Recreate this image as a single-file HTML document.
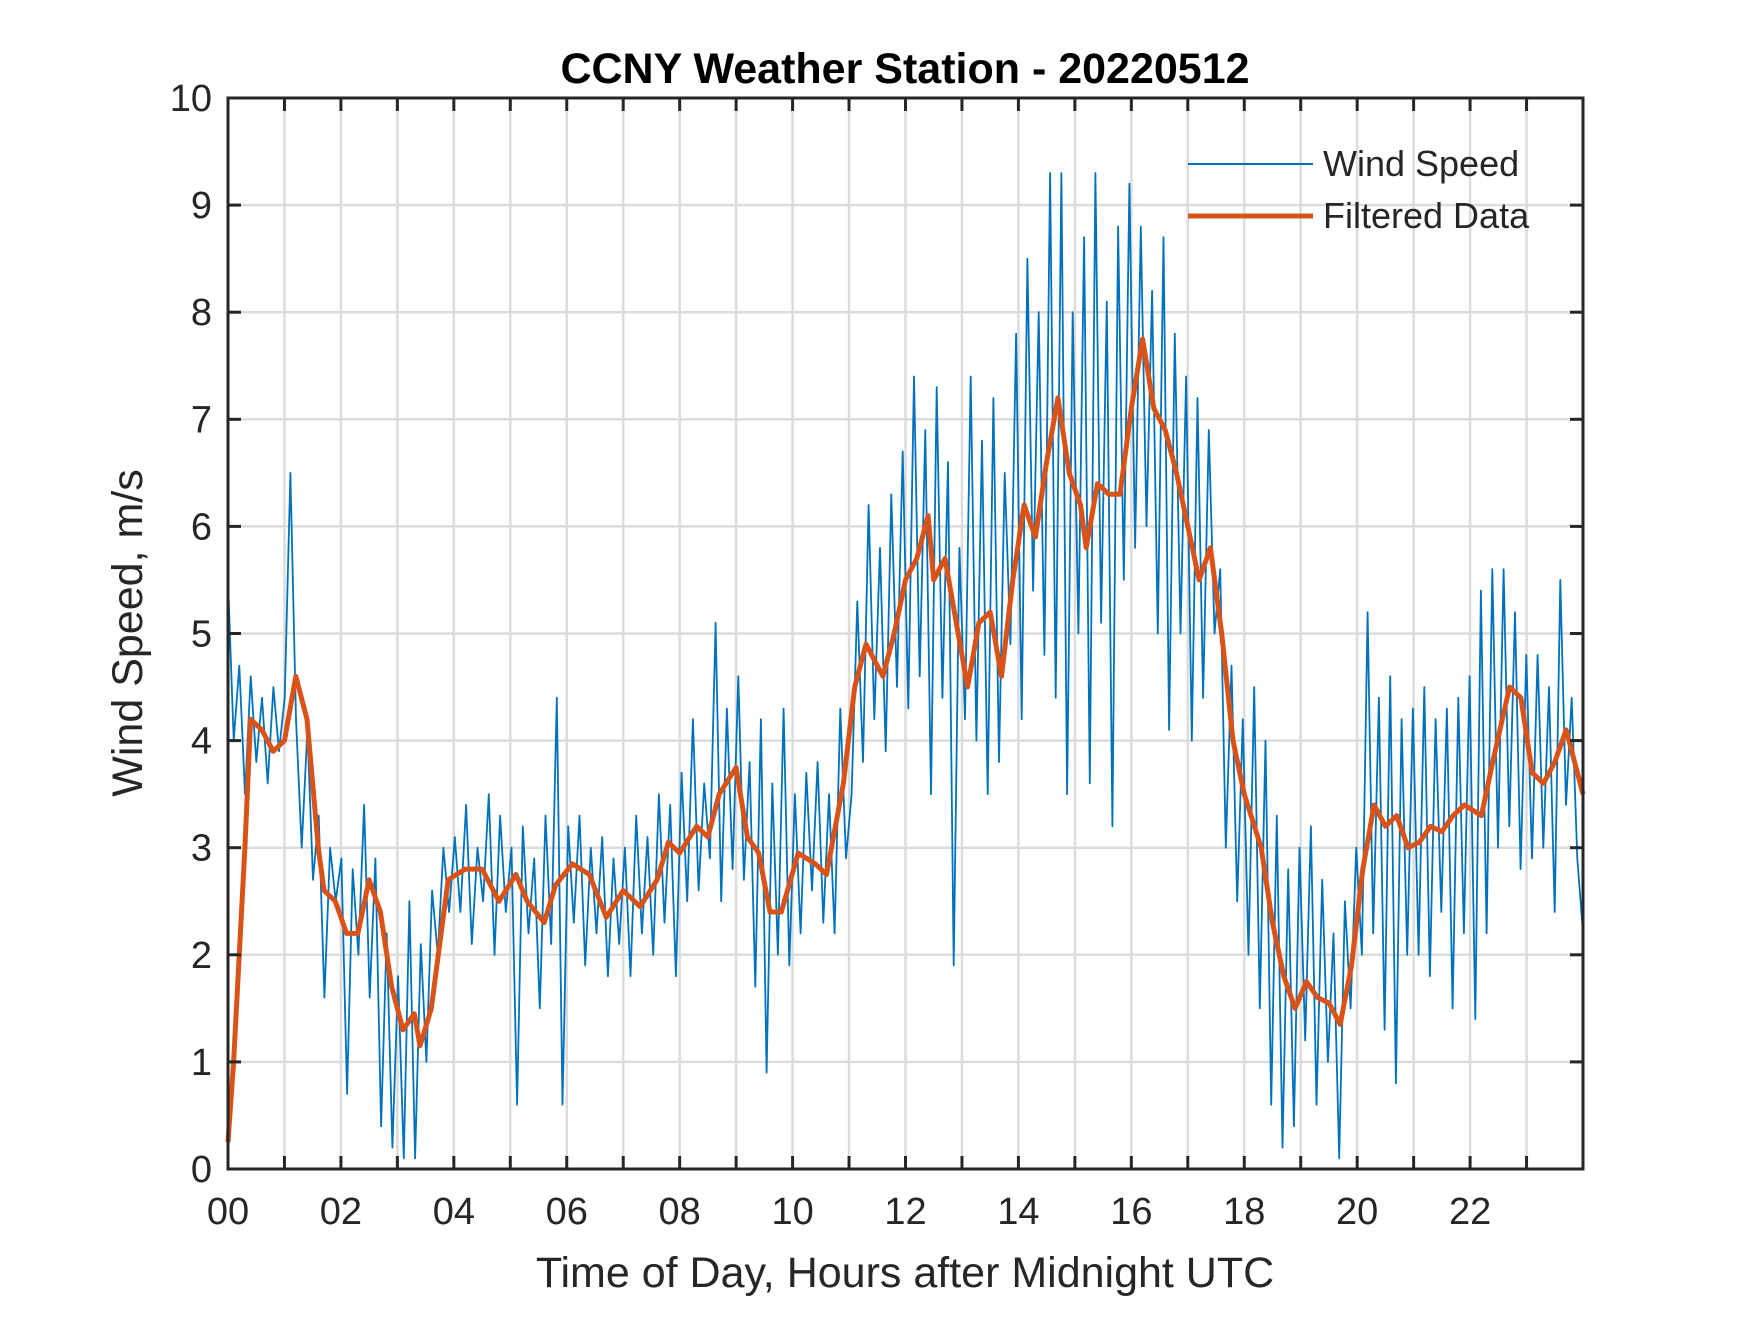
<!DOCTYPE html>
<html><head><meta charset="utf-8"><style>
body{margin:0;background:#fff;}
svg text{font-family:"Liberation Sans",Arial,sans-serif;fill:#262626;}
</style></head><body>
<svg id="chart" width="1750" height="1313" viewBox="0 0 1750 1313" xmlns="http://www.w3.org/2000/svg">
<rect width="1750" height="1313" fill="#fff"/>
<g id="grid"></g>
<g id="series"></g>
<g id="axes"></g>
<text x="905" y="83" text-anchor="middle" font-size="43" font-weight="bold" style="fill:#000">CCNY Weather Station - 20220512</text>
<text x="905" y="1287" text-anchor="middle" font-size="43">Time of Day, Hours after Midnight UTC</text>
<text transform="translate(142,633) rotate(-90)" text-anchor="middle" font-size="43">Wind Speed, m/s</text>
<g>
<line x1="1188" y1="164" x2="1313" y2="164" stroke="#0072BD" stroke-width="2"/>
<text x="1323" y="176" font-size="36">Wind Speed</text>
<line x1="1188" y1="216" x2="1313" y2="216" stroke="#D95319" stroke-width="5"/>
<text x="1323" y="228" font-size="36">Filtered Data</text>
</g>
</svg>
<script>
const rawValues=[
5.5,4.0,4.7,3.5,4.6,3.8,4.4,3.6,4.5,3.9,
4.4,6.5,4.2,3.0,4.1,2.7,3.3,1.6,3.0,2.5,
2.9,0.7,2.8,2.0,3.4,1.6,2.9,0.4,2.2,0.2,
1.8,0.1,2.5,0.1,2.1,1.0,2.6,2.0,3.0,2.4,
3.1,2.4,3.4,2.1,3.0,2.5,3.5,2.0,3.3,2.4,
3.0,0.6,3.2,2.2,2.9,1.5,3.3,2.1,4.4,0.6,
3.2,2.3,3.3,1.9,3.0,2.2,3.1,1.8,2.9,2.1,
3.0,1.8,3.3,2.2,3.1,2.0,3.5,2.3,3.4,1.8,
3.7,2.5,4.2,2.6,3.6,2.9,5.1,2.5,4.3,2.8,
4.6,2.7,3.8,1.7,4.2,0.9,3.6,2.0,4.3,1.9,
3.5,2.2,3.7,2.6,3.8,2.3,3.5,2.2,4.3,2.9,
3.5,5.3,3.8,6.2,4.2,5.8,3.9,6.3,4.5,6.7,
4.3,7.4,4.6,6.9,3.5,7.3,4.4,6.6,1.9,5.8,
4.2,7.4,4.0,6.8,3.5,7.2,3.8,6.5,4.9,7.8,
4.2,8.5,5.4,8.0,4.8,9.3,4.4,9.3,3.5,8.0,
5.0,8.7,3.6,9.3,5.1,8.1,3.2,8.8,5.5,9.2,
5.8,8.8,6.0,8.2,5.0,8.7,4.1,7.8,5.0,7.4,
4.0,7.2,4.4,6.9,5.0,5.6,3.0,4.7,2.5,4.2,
2.0,4.5,1.5,4.0,0.6,3.3,0.2,2.8,0.4,3.0,
1.2,3.2,0.6,2.7,1.0,2.2,0.1,2.5,1.5,3.0,
2.0,5.2,2.2,4.4,1.3,4.6,0.8,4.2,2.0,4.3,
2.0,4.5,1.8,4.2,2.4,4.3,1.5,4.4,2.2,4.6,
1.4,5.4,2.2,5.6,3.0,5.6,3.2,5.2,2.8,4.8,
2.9,4.8,3.0,4.5,2.4,5.5,3.4,4.4,2.9,2.2];
const filtHours=[0,0.1,0.3,0.4,0.6,0.8,1.0,1.2,1.4,1.6,1.7,1.9,2.1,2.3,2.5,2.7,2.9,3.1,3.3,3.4,3.6,3.8,3.9,4.2,4.5,4.8,5.1,5.3,5.6,5.8,6.1,6.4,6.7,7.0,7.3,7.6,7.8,8.0,8.3,8.5,8.7,9.0,9.2,9.4,9.6,9.8,10.1,10.4,10.6,10.9,11.1,11.3,11.6,11.8,12.0,12.2,12.4,12.5,12.7,12.9,13.1,13.3,13.5,13.7,13.9,14.1,14.3,14.5,14.7,14.9,15.1,15.2,15.4,15.6,15.8,16.0,16.2,16.4,16.6,16.8,17.0,17.2,17.4,17.6,17.8,18.0,18.3,18.5,18.7,18.9,19.1,19.3,19.5,19.7,19.9,20.1,20.3,20.5,20.7,20.9,21.1,21.3,21.5,21.7,21.9,22.2,22.4,22.7,22.9,23.1,23.3,23.5,23.7,23.9,24.0];
const filtValues=[0.25,1.0,3.0,4.2,4.1,3.9,4.0,4.6,4.2,3.0,2.6,2.5,2.2,2.2,2.7,2.4,1.7,1.3,1.45,1.15,1.5,2.3,2.7,2.8,2.8,2.5,2.75,2.5,2.3,2.65,2.85,2.75,2.35,2.6,2.45,2.7,3.05,2.95,3.2,3.1,3.5,3.75,3.1,2.95,2.4,2.4,2.95,2.85,2.75,3.6,4.5,4.9,4.6,5.0,5.5,5.7,6.1,5.5,5.7,5.1,4.5,5.1,5.2,4.6,5.5,6.2,5.9,6.6,7.2,6.5,6.2,5.8,6.4,6.3,6.3,7.1,7.75,7.1,6.9,6.5,6.0,5.5,5.8,5.0,4.0,3.5,3.0,2.3,1.8,1.5,1.75,1.6,1.55,1.35,1.9,2.8,3.4,3.2,3.3,3.0,3.05,3.2,3.15,3.3,3.4,3.3,3.8,4.5,4.4,3.7,3.6,3.8,4.1,3.7,3.5];
const xTickLabels=["00","02","04","06","08","10","12","14","16","18","20","22"];
const yTickLabels=["0","1","2","3","4","5","6","7","8","9","10"];

const L=228,R=1583,T=98,B=1169,NS="http://www.w3.org/2000/svg";
const xs=h=>L+h/24*(R-L);
const ys=v=>B-v/10*(B-T);
function mk(tag,attrs,parent){const e=document.createElementNS(NS,tag);for(const k in attrs)e.setAttribute(k,attrs[k]);parent.appendChild(e);return e;}
const grid=document.getElementById('grid'),axes=document.getElementById('axes'),series=document.getElementById('series');
for(let h=1;h<24;h++){const g=mk('line',{x1:xs(h),x2:xs(h),y1:T,y2:B,stroke:'#dcdcdc','stroke-width':2.5},grid);


for(const [a,b] of [[T,T+13],[B,B-13]]){const t=mk('line',{x1:xs(h),x2:xs(h),y1:a,y2:b,stroke:'#262626','stroke-width':3},axes);

}}
for(let v=1;v<10;v++){const g=mk('line',{x1:L,x2:R,y1:ys(v),y2:ys(v),stroke:'#dcdcdc','stroke-width':2.5},grid);


for(const [a,b] of [[L,L+13],[R,R-13]]){const t=mk('line',{x1:a,x2:b,y1:ys(v),y2:ys(v),stroke:'#262626','stroke-width':3},axes);

}}
xTickLabels.forEach((s,i)=>{const t=mk('text',{x:xs(i*2),y:B+55,'text-anchor':'middle','font-size':38},axes);t.textContent=s;

});
yTickLabels.forEach((s,i)=>{const t=mk('text',{x:L-16,y:ys(i)+13,'text-anchor':'end','font-size':38},axes);t.textContent=s;

});
const box=mk('rect',{x:L,y:T,width:R-L,height:B-T,fill:'none',stroke:'#262626','stroke-width':3},axes);


const rp=rawValues.map((v,i)=>xs(i*24/(rawValues.length-1)).toFixed(1)+','+ys(v).toFixed(1)).join(' ');
const raw=mk('polyline',{points:rp,fill:'none',stroke:'#0072BD','stroke-width':1.8,'stroke-linejoin':'round'},series);


const fp=filtValues.map((v,i)=>xs(filtHours[i]).toFixed(1)+','+ys(v).toFixed(1)).join(' ');
const f=mk('polyline',{points:fp,fill:'none',stroke:'#D95319','stroke-width':5,'stroke-linejoin':'round'},series);


</script>
</body></html>
